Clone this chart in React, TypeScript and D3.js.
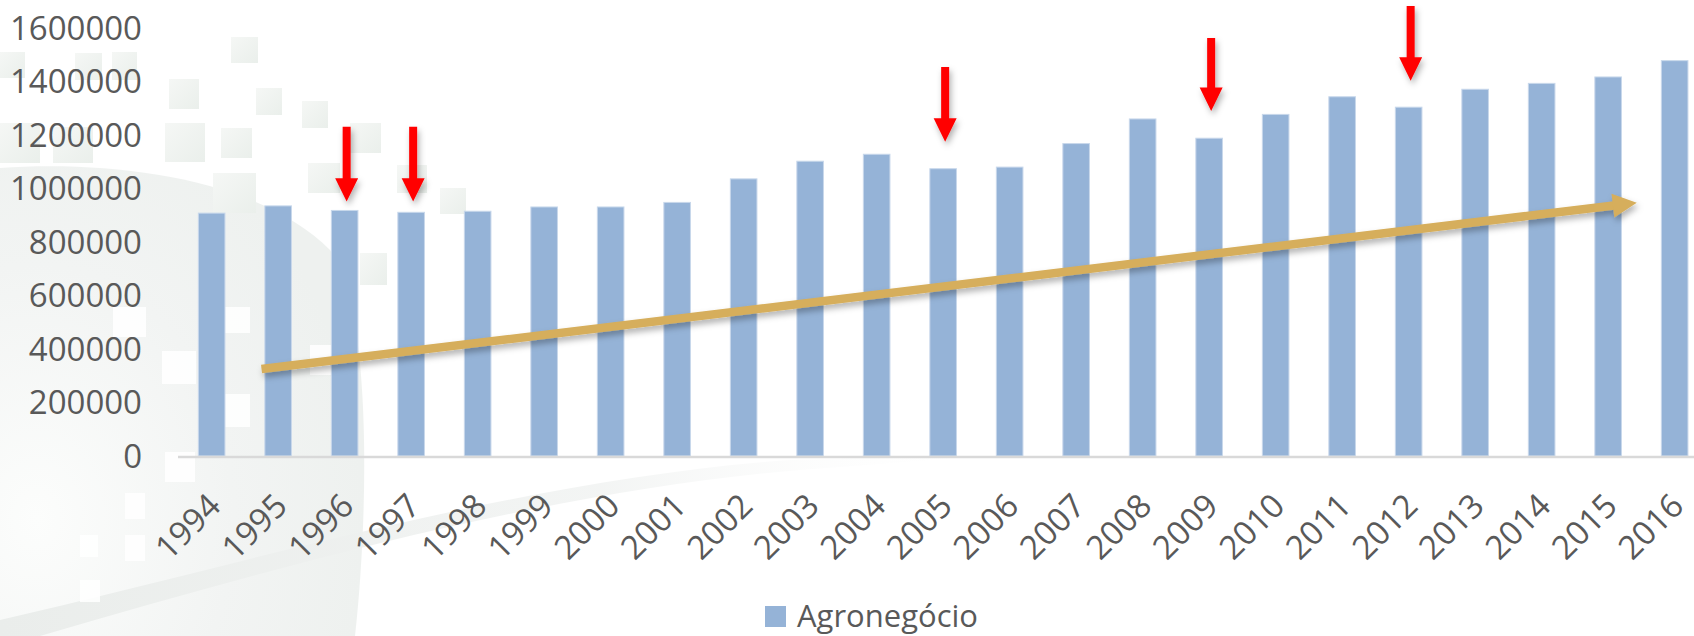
import React from 'react';
import * as d3 from 'd3';

const years = ['1994','1995','1996','1997','1998','1999','2000','2001','2002','2003','2004','2005','2006','2007','2008','2009','2010','2011','2012','2013','2014','2015','2016'];
const agronegocio = [908000, 935000, 918000, 911000, 915000, 931000, 931000, 948000, 1036000, 1102000, 1128000, 1074000, 1080000, 1168000, 1260000, 1188000, 1277000, 1343000, 1304000, 1371000, 1393000, 1417000, 1478000];
const yTicks = [0, 200000, 400000, 600000, 800000, 1000000, 1200000, 1400000, 1600000];
const seriesName = 'Agronegócio';

// red "drop" markers: year, tail value, tip value
const dropYears = ['1996', '1997', '2005', '2009', '2012'];
const dropTail = [1231000, 1231000, 1454000, 1563000, 1682000];
const dropTip = [951000, 951000, 1175000, 1290000, 1403000];

// golden trend arrow: fractional category index and value
const trendPos = [0.75, 21.43];
const trendValue = [325000, 947000];

const W = 1694, H = 636;
const FONT = '"Open Sans", "Noto Sans", sans-serif';
const TXT = '#595959';

// background decorations (not data)
const greySquares = [
  [231, 37, 27, 26], [169, 79, 30, 30], [256, 88, 26, 27], [302, 101, 26, 27],
  [165, 123, 40, 39], [221, 128, 31, 30], [350, 123, 31, 30], [213, 173, 43, 40],
  [308, 163, 32, 30], [397, 165, 30, 28], [440, 188, 26, 26],
  [0, 52, 25, 26], [75, 53, 27, 27], [112, 52, 25, 28], [0, 123, 40, 40], [53, 127, 40, 36],
  [360, 253, 27, 32],
];
const whiteSquares = [
  [162, 351, 34, 33], [223, 307, 27, 26], [223, 394, 27, 33], [113, 307, 33, 30],
  [165, 452, 30, 30], [125, 493, 20, 26], [125, 535, 20, 26], [80, 535, 18, 22],
  [310, 345, 30, 30], [80, 580, 20, 22],
];

export default function App() {
  const x = d3.scaleBand<string>().domain(years).range([178.4, 178.4 + 23 * 66.5]).paddingInner(0.6).paddingOuter(0.3);
  const y = d3.scaleLinear().domain([0, 1600000]).range([456, 28]);
  const bw = x.bandwidth();
  const step = x.step();
  const cx = (yr: string) => (x(yr) as number) + bw / 2;
  const posX = (p: number) => cx(years[0]) + p * step;

  // trend arrow geometry
  const x0 = posX(trendPos[0]), y0 = y(trendValue[0]);
  const x1 = posX(trendPos[1]), y1 = y(trendValue[1]);
  const ang = Math.atan2(y1 - y0, x1 - x0);
  const headLen = 24, headHalf = 12;
  const bx = x1 - headLen * Math.cos(ang), by = y1 - headLen * Math.sin(ang);
  const nx = -Math.sin(ang), ny = Math.cos(ang);
  const head = `M${x1},${y1} L${bx + nx * headHalf},${by + ny * headHalf} L${bx - nx * headHalf},${by - ny * headHalf} Z`;

  const redArrow = (yr: string, tail: number, tip: number) => {
    const c = cx(yr) + 2;
    const yt = y(tail), yp = y(tip);
    const hl = 23.4, sw = 4, hw = 11.5;
    const yb = yp - hl;
    return `M${c - sw},${yt} L${c + sw},${yt} L${c + sw},${yb} L${c + hw},${yb} L${c},${yp} L${c - hw},${yb} L${c - sw},${yb} Z`;
  };

  return (
    <svg width={W} height={H} style={{ position: 'absolute', left: 0, top: 0, background: '#fff' }}>
      <defs>
        <radialGradient id="bgGrad" cx="0.1" cy="0.75" r="0.9">
          <stop offset="0" stopColor="#fcfdfc" />
          <stop offset="0.6" stopColor="#f2f4f3" />
          <stop offset="1" stopColor="#eef1ef" />
        </radialGradient>
        <linearGradient id="sqGrad" x1="0" y1="0" x2="1" y2="1">
          <stop offset="0" stopColor="#f5f7f5" />
          <stop offset="1" stopColor="#eaefeb" />
        </linearGradient>
        <linearGradient id="streak" x1="0" y1="0" x2="1" y2="0">
          <stop offset="0" stopColor="#eaedeb" stopOpacity="1" />
          <stop offset="0.6" stopColor="#f0f2f1" stopOpacity="0.8" />
          <stop offset="1" stopColor="#ffffff" stopOpacity="0" />
        </linearGradient>
        <filter id="shadow" x="-50%" y="-50%" width="200%" height="200%">
          <feDropShadow dx="2" dy="4" stdDeviation="3" floodColor="#000" floodOpacity="0.3" />
        </filter>
      </defs>

      {/* background decoration */}
      <path d="M0,168 C120,160 260,180 330,250 C370,300 370,500 355,636 L0,636 Z" fill="url(#bgGrad)" />
      <path d="M0,636 L40,636 C300,560 560,490 800,470 L1000,455 L790,460 C520,480 260,560 0,620 Z" fill="url(#streak)" />
      {greySquares.map((s, i) => (
        <rect key={'g' + i} x={s[0]} y={s[1]} width={s[2]} height={s[3]} fill="url(#sqGrad)" />
      ))}
      {whiteSquares.map((s, i) => (
        <rect key={'w' + i} x={s[0]} y={s[1]} width={s[2]} height={s[3]} fill="#ffffff" opacity={0.85} />
      ))}

      {/* y axis labels */}
      {yTicks.map(t => (
        <text key={t} x={142} y={y(t)} dy="0.35em" textAnchor="end" fontFamily={FONT} fontSize={33} fill={TXT}>{t}</text>
      ))}

      {/* bars */}
      {years.map((yr, i) => (
        <rect key={yr} x={x(yr)} y={y(agronegocio[i])} width={bw} height={y(0) - y(agronegocio[i])}
          fill="#95b3d7" stroke="#c8d8eb" strokeWidth={1} />
      ))}

      {/* x axis line */}
      <line x1={178} x2={W} y1={y(0) + 1} y2={y(0) + 1} stroke="#d9d9d9" strokeWidth={2.5} />

      {/* x labels */}
      {years.map(yr => (
        <text key={'l' + yr} transform={`translate(${cx(yr) + 11},${508}) rotate(-45)`} textAnchor="end"
          fontFamily={FONT} fontSize={33} fill={TXT}>{yr}</text>
      ))}

      {/* trend arrow */}
      <g filter="url(#shadow)">
        <line x1={x0} y1={y0} x2={bx + 1 * Math.cos(ang)} y2={by + 1 * Math.sin(ang)} stroke="#d6ae5b" strokeWidth={8.5} />
        <path d={head} fill="#d6ae5b" />
      </g>

      {/* red arrows */}
      <g filter="url(#shadow)">
        {dropYears.map((yr, i) => (
          <path key={'r' + yr} d={redArrow(yr, dropTail[i], dropTip[i])} fill="#ff0000" />
        ))}
      </g>

      {/* legend */}
      <rect x={765} y={606} width={21} height={21} fill="#95b3d7" />
      <text x={797} y={627} fontFamily={FONT} fontSize={31} fill={TXT}>{seriesName}</text>
    </svg>
  );
}
